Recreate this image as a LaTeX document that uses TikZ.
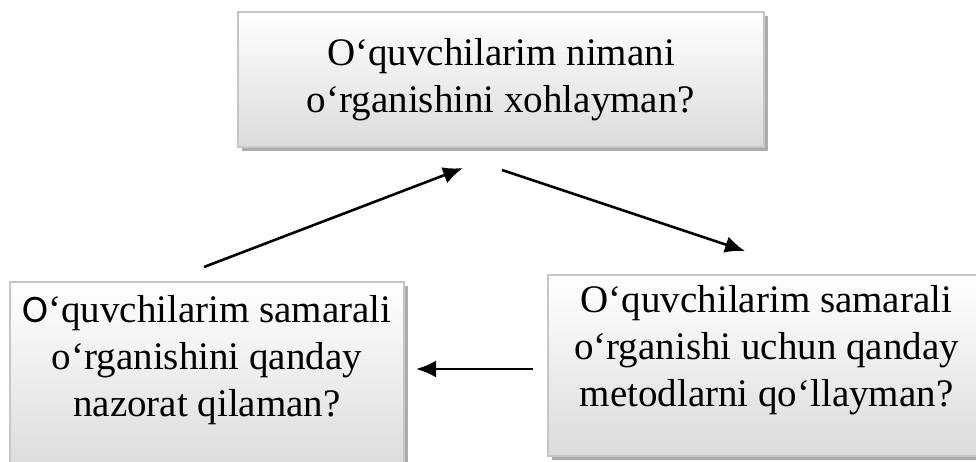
\documentclass[tikz,border=0pt]{standalone}
\usepackage{fontspec}
\setmainfont{Liberation Serif}
\newfontfamily\calibrifont{Carlito}
\usetikzlibrary{positioning,shadows,arrows.meta}

\begin{document}
\begin{tikzpicture}[x=1pt, y=-1pt,
    qbox/.style={rectangle, draw=gray!45, line width=1.5pt, top color=white, bottom color=gray!28,
        drop shadow={shadow xshift=4pt, shadow yshift=-4pt, fill=gray!65, opacity=1}},
    qtext/.style={align=center, font=\fontsize{39}{47}\selectfont},
    arrow/.style={-{Latex[length=20pt,width=17pt]}, line width=2.6pt}
]
    \useasboundingbox (0,0) rectangle (976,462);
    \clip (0,0) rectangle (976,462);

    % boxes
    \node[qbox, minimum width=526pt, minimum height=135pt] (goal) at (501,79.5) {};
    \node[qbox, minimum width=394pt, minimum height=188pt] (check) at (207,376) {};
    \node[qbox, minimum width=437pt, minimum height=181pt] (method) at (766.5,365.5) {};

    \node[qtext] (goaltext) at (501,80) {O‘quvchilarim nimani\\o‘rganishini xohlayman?};
    \node[qtext] (checktext) at (207,360) {{\calibrifont O}‘quvchilarim samarali\\o‘rganishini qanday\\nazorat qilaman?};
    \node[qtext] (methodtext) at (766.5,350) {O‘quvchilarim samarali\\o‘rganishi uchun qanday\\metodlarni qo‘llayman?};

    % arrow ends
    \coordinate (a1) at (204,267);
    \coordinate (a2) at (463,168);
    \coordinate (b1) at (502,170);
    \coordinate (b2) at (745,251);
    \coordinate (c1) at (533,369);
    \coordinate (c2) at (416,369);

    \draw[arrow] (a1) -- (a2);
    \draw[arrow] (b1) -- (b2);
    \draw[arrow] (c1) -- (c2);
\end{tikzpicture}
\end{document}
